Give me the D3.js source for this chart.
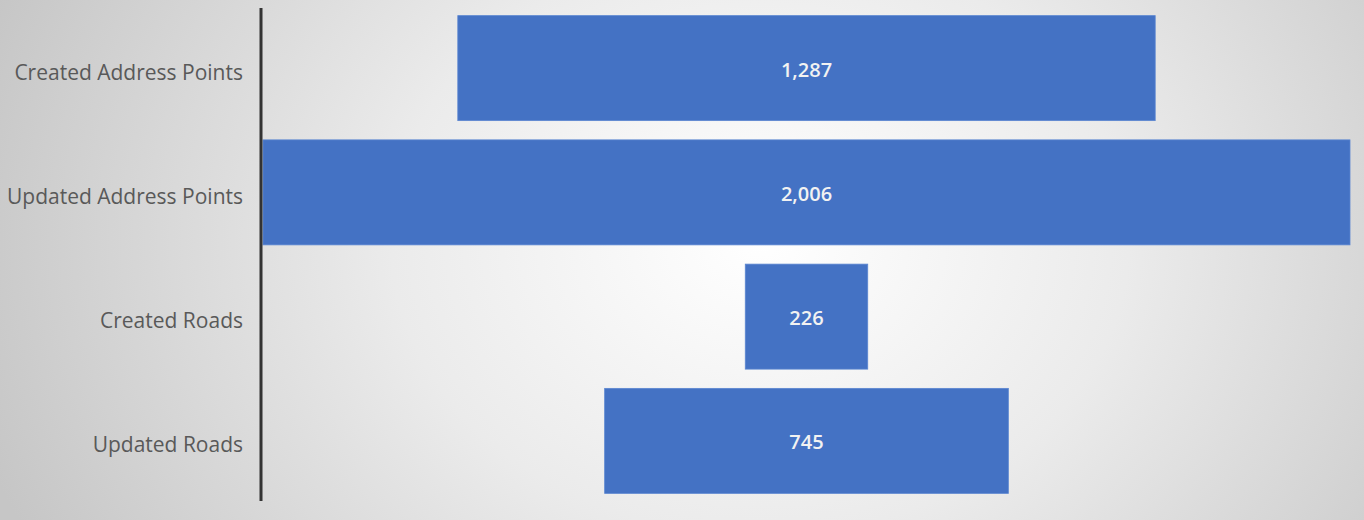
<!DOCTYPE html>
<html>
<head>
<meta charset="utf-8">
<script src="https://cdn.jsdelivr.net/npm/d3@7"></script>
<style>
html,body{margin:0;padding:0;overflow:hidden;}
svg{display:block;}
</style>
</head>
<body>
<svg id="chart" width="1364" height="520"></svg>
<script>
const categories = ["Created Address Points", "Updated Address Points", "Created Roads", "Updated Roads"];
const values = [1287, 2006, 226, 745];

const W = 1364, H = 520;
const svg = d3.select("#chart");

const defs = svg.append("defs");
const grad = defs.append("radialGradient")
  .attr("id", "bg").attr("gradientUnits", "userSpaceOnUse")
  .attr("cx", 760).attr("cy", 240).attr("r", 820)
  .attr("gradientTransform", "translate(760,240) scale(1,0.8) translate(-760,-240)");
grad.append("stop").attr("offset", "0").attr("stop-color", "#ffffff");
grad.append("stop").attr("offset", "0.45").attr("stop-color", "#ebebeb");
grad.append("stop").attr("offset", "1").attr("stop-color", "#c6c6c6");
svg.append("rect").attr("width", W).attr("height", H).attr("fill", "url(#bg)");

const axisX = 261, center = 806.5, halfMax = 543.5;
const x = d3.scaleLinear().domain([0, d3.max(values)]).range([0, halfMax * 2]);
const y = d3.scaleBand().domain(categories).range([6, 503]).paddingInner(0.155).paddingOuter(0.0775);

svg.append("g").selectAll("rect").data(values).join("rect")
  .attr("x", d => center - x(d) / 2)
  .attr("y", (d, i) => y(categories[i]))
  .attr("width", d => x(d))
  .attr("height", y.bandwidth())
  .attr("fill", "#4472c4")
  .attr("stroke", "#5b86d1").attr("stroke-width", 0.8);

svg.append("g").selectAll("text").data(values).join("text")
  .attr("x", center)
  .attr("y", (d, i) => y(categories[i]) + y.bandwidth() / 2 + 1)
  .attr("text-anchor", "middle").attr("dominant-baseline", "central")
  .attr("font-family", "'Open Sans', sans-serif").attr("font-size", 20)
  .attr("font-weight", 600)
  .attr("fill", "#f2f2f2")
  .text(d => d3.format(",")(d));

const ax = svg.append("g").attr("transform", `translate(${axisX},0)`)
  .call(d3.axisLeft(y).tickSize(0).tickPadding(18));
ax.select(".domain").attr("stroke", "#333").attr("stroke-width", 3)
  .attr("d", "M0,8V501");
ax.selectAll(".tick text").attr("font-family", "'Open Sans', sans-serif").attr("font-size", 21)
  .attr("fill", "#595959").attr("dy", "0.55em");
</script>
</body>
</html>
